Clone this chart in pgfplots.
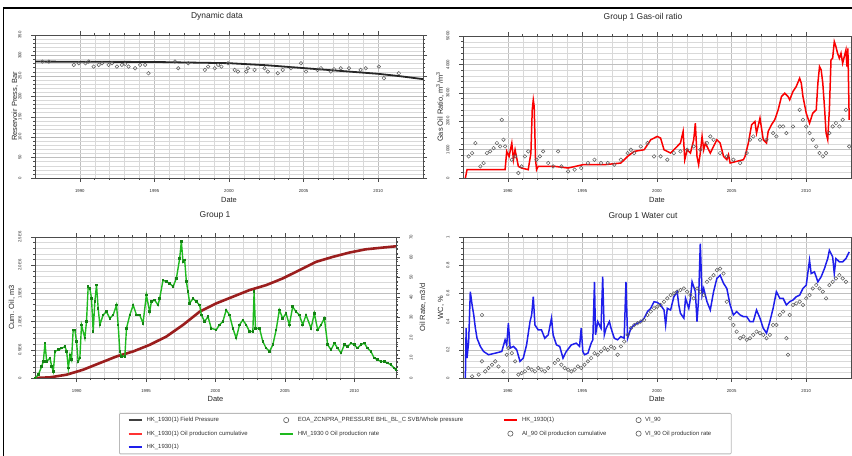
\documentclass[border=0pt]{standalone}
\usepackage{pgfplots}
\pgfplotsset{compat=1.18}
\usepackage{fontspec}
\setmainfont{Liberation Sans}
\definecolor{cumred}{RGB}{155,30,30}
\definecolor{ggreen}{RGB}{30,185,30}
\definecolor{dgreen}{RGB}{20,130,20}
\definecolor{bblue}{RGB}{30,30,235}
\definecolor{rred}{RGB}{250,0,0}
\definecolor{cgray}{RGB}{90,90,90}
\pgfplotsset{
  panel/.style={
    scale only axis, xmin=1987, xmax=2013,
    xtick={1990,1995,2000,2005,2010}, xticklabels={1990,1995,2000,2005,2010},
    minor x tick num=4, minor y tick num=4,
    grid=both,
    major grid style={gray!50, line width=0.4bp},
    minor grid style={gray!30, line width=0.35bp},
    axis line style={gray!60!black, line width=0.5bp},
    tick align=outside, major tick length=4bp, minor tick length=2bp,
    tick style={gray!60!black, line width=0.4bp},
    scaled y ticks=false,
    /pgf/number format/assume math mode=true,
    ticklabel style={font=\fontsize{4.3}{5}\selectfont, text=black!85},
    xticklabel style={inner sep=0pt, anchor=north, yshift=-7bp},
    label style={font=\fontsize{7.5}{8}\selectfont, text=black!85},
    title style={font=\fontsize{8.5}{9}\selectfont, text=black!85, anchor=center},
    xlabel=Date,
  },
  leftticks/.style={yticklabel style={inner sep=0pt, xshift=-9.5bp, rotate=90, anchor=south}},
  rightticks/.style={yticklabel style={inner sep=0pt, xshift=9.5bp, rotate=90, anchor=north}},
  gcirc/.style={only marks, mark=o, mark size=1.8bp, mark options={draw=cgray, line width=0.5bp}},
  lcirc/.style={only marks, mark=o, mark size=2.6bp, mark options={draw=cgray, line width=0.6bp}},
}
\begin{document}
\begin{tikzpicture}
\useasboundingbox (0bp,0bp) rectangle (852bp,456bp);
\draw[line width=1.6bp] (3.5bp,-3bp) -- (3.5bp,448bp) -- (870bp,448bp);

% ---------------- Panel 1: Dynamic data
\begin{axis}[panel, leftticks, at={(35bp,278bp)}, anchor=south west, width=388bp, height=143bp,
  ymin=0, ymax=350, ytick={0,50,...,350}, yticklabels={0,50,100,150,200,250,300,350},
  title={Dynamic data}, title style={at={(axis description cs:0.469,1.091)}},
  xlabel style={at={(axis description cs:0.5,-0.154)}, anchor=center},
  ylabel={Reservoir Press, Bar}, ylabel style={at={(axis description cs:-0.0515,0.5)}, anchor=center}]
\addplot[gcirc] coordinates {(1987.49,284.9)(1987.93,284.9)(1989.6,276.8)(1989.93,280.8)(1990.38,280.8)(1990.6,284.9)(1990.93,272.7)(1991.27,276.8)(1991.49,280.8)(1991.93,276.8)(1992.16,280.8)(1992.49,272.7)(1992.82,276.8)(1993.04,279.2)(1993.27,272.7)(1993.71,268.6)(1994.04,276.8)(1994.38,276.8)(1994.6,256.4)(1996.38,284.9)(1996.6,268.6)(1997.27,280.8)(1998.38,264.6)(1998.6,272.7)(1999.04,268.6)(1999.27,276.8)(1999.49,272.7)(1999.93,280.8)(2000.38,264.6)(2000.6,260.5)(2001.16,260.5)(2001.27,268.6)(2001.71,264.6)(2002.38,268.6)(2002.6,260.5)(2003.27,256.4)(2003.6,264.6)(2004.16,268.6)(2004.82,280.8)(2005.16,260.5)(2005.93,264.6)(2006.16,268.6)(2006.82,260.5)(2007.04,266.2)(2007.49,268.6)(2008.04,268.6)(2008.82,264.6)(2009.16,268.6)(2010.04,272.7)(2010.38,244.2)(2011.38,256.4)};
\addplot[black!85, line width=1.8bp] coordinates {(1987,285)(1990,284.5)(1995,284)(2000,281)(2002.5,276)(2005,269)(2007.5,262)(2010,255)(2011.5,249)(2013,242)};
\end{axis}

% ---------------- Panel 2: Gas-oil ratio
\begin{axis}[panel, leftticks, at={(463bp,278bp)}, anchor=south west, width=388bp, height=142bp,
  ymin=0, ymax=5000, ytick={0,1000,...,5000}, yticklabels={0,1000,2000,3000,4000,5000},
  title={Group 1 Gas-oil ratio}, title style={at={(axis description cs:0.464,1.092)}},
  xlabel style={at={(axis description cs:0.5,-0.155)}, anchor=center},
  ylabel={Gas Oil Ratio, m\textsuperscript{3}/m\textsuperscript{3}}, ylabel style={at={(axis description cs:-0.0593,0.5)}, anchor=center}]
\addplot[gcirc] coordinates {(1987.38,761)(1987.61,878)(1987.83,1230)(1988.16,410)(1988.38,527)(1988.6,878)(1988.82,937)(1989.05,1054)(1989.27,1230)(1989.49,1112)(1989.6,2049)(1989.71,1347)(1989.82,1112)(1990.27,644)(1990.49,761)(1990.71,176)(1990.93,410)(1991.15,761)(1991.37,937)(1991.93,644)(1992.15,761)(1992.37,937)(1992.71,527)(1993.04,410)(1993.37,937)(1993.59,410)(1994.04,234)(1994.48,293)(1994.92,351)(1995.37,527)(1995.81,644)(1996.25,527)(1996.7,527)(1997.14,468)(1997.58,644)(1998.03,878)(1998.25,995)(1998.47,878)(1998.91,1112)(1999.36,1230)(1999.8,761)(2000.24,761)(2000.69,644)(2001.13,878)(2001.57,937)(2002.02,995)(2002.46,1112)(2002.9,995)(2003.35,1230)(2003.57,1464)(2003.79,1347)(2004.23,878)(2004.68,761)(2005.12,644)(2005.57,527)(2006.01,878)(2006.23,1347)(2006.45,1464)(2006.9,1347)(2007.34,1347)(2007.78,1581)(2008.0,1464)(2008.23,1815)(2008.45,1815)(2008.67,1581)(2009.11,1815)(2009.56,2400)(2009.78,2049)(2010.0,1815)(2010.22,1581)(2010.44,1347)(2010.67,1112)(2010.89,878)(2011.11,761)(2011.33,878)(2011.55,1581)(2011.77,1815)(2011.99,1932)(2012.22,1815)(2012.44,2049)(2012.66,2400)(2012.88,1112)};
\addplot[rred, line width=1.5bp] coordinates {(1987.16,0)(1987.27,293)(1989.82,293)(1989.93,937)(1990.09,761)(1990.27,1230)(1990.38,644)(1990.49,995)(1990.71,410)(1990.93,351)(1991.37,293)(1991.55,878)(1991.64,2400)(1991.71,2752)(1991.77,2518)(1991.86,644)(1991.93,293)(1992.04,410)(1993.15,410)(1994.04,351)(1995.03,468)(1996.47,468)(1997.58,527)(1998.03,761)(1998.47,937)(1999.14,995)(1999.58,1347)(2000.02,1464)(2000.24,1405)(2000.47,995)(2000.91,878)(2001.35,1112)(2001.57,1230)(2001.75,1639)(2001.86,644)(2002.02,995)(2002.24,878)(2002.46,1347)(2002.57,1932)(2002.68,761)(2002.79,468)(2002.9,878)(2003.02,1464)(2003.13,995)(2003.24,1230)(2003.57,878)(2003.79,1112)(2004.01,1347)(2004.23,1230)(2004.46,761)(2004.68,644)(2004.79,820)(2004.9,527)(2005.34,586)(2005.79,644)(2005.9,761)(2006.12,1230)(2006.34,1874)(2006.56,1991)(2006.67,1581)(2006.9,2108)(2007.12,1347)(2007.34,1230)(2007.45,1639)(2007.67,1874)(2007.89,2049)(2008.12,2400)(2008.34,2869)(2008.56,2986)(2008.78,2869)(2008.89,2752)(2009.11,3045)(2009.33,3220)(2009.56,3513)(2009.67,3337)(2009.78,2869)(2010.0,2283)(2010.22,1932)(2010.44,2283)(2010.67,2400)(2010.78,3337)(2010.89,3923)(2011.0,3806)(2011.11,3337)(2011.22,2518)(2011.33,1581)(2011.44,1347)(2011.55,2400)(2011.66,4157)(2011.77,4216)(2011.88,4801)(2011.99,4625)(2012.1,4391)(2012.22,4216)(2012.33,4391)(2012.44,4040)(2012.55,4274)(2012.66,4508)(2012.73,3923)(2012.79,4567)(2012.88,2049)};
\end{axis}

% ---------------- Panel 3: Group 1 (left axis, cumulative)
\begin{axis}[panel, leftticks, at={(35bp,78bp)}, anchor=south west, width=361bp, height=141bp,
  ymin=0, ymax=2500000, ytick={0,500000,...,2500000}, yticklabels={0,0.5E6,1.0E6,1.5E6,2.0E6,2.5E6},
  title={Group 1}, title style={at={(axis description cs:0.4986,1.113)}},
  xlabel style={at={(axis description cs:0.5,-0.149)}, anchor=center},
  ylabel={Cum. Oil, m3}, ylabel style={at={(axis description cs:-0.0637,0.5)}, anchor=center},
  legend columns=4,
  legend style={at={(axis description cs:0.2327,-0.248)}, anchor=north west,
    draw=gray!55, line width=0.8bp, fill=white, rounded corners=1bp,
    font=\fontsize{6}{7}\selectfont, text=black!80,
    inner xsep=8bp, inner ysep=0bp, column sep=0bp, row sep=0bp,
    nodes={inner xsep=4bp, inner ysep=3.75bp, text height=4.5bp, text depth=1.5bp}},
  legend cell align=left,
  legend image code/.code={\draw[mark repeat=2,mark phase=2,#1] plot coordinates {(0bp,0bp) (6.5bp,0bp) (13bp,0bp)};}]
\addlegendimage{black!75, line width=2.2bp}
\addlegendentry{\makebox[128bp][l]{HK\_1930(1) Field Pressure}}
\addlegendimage{lcirc}
\addlegendentry{\makebox[201bp][l]{EOA\_ZCNPRA\_PRESSURE BHL\_BL\_C SVB/Whole pressure}}
\addlegendimage{rred, line width=2.2bp}
\addlegendentry{\makebox[110bp][l]{HK\_1930(1)}}
\addlegendimage{lcirc}
\addlegendentry{\makebox[74bp][l]{VI\_90}}
\addlegendimage{red!80, line width=2.2bp}
\addlegendentry{\makebox[128bp][l]{HK\_1930(1) Oil production cumulative}}
\addlegendimage{ggreen, line width=2.2bp}
\addlegendentry{\makebox[201bp][l]{HM\_1930 0 Oil production rate}}
\addlegendimage{lcirc}
\addlegendentry{\makebox[110bp][l]{AI\_90 Oil production cumulative}}
\addlegendimage{lcirc}
\addlegendentry{\makebox[74bp][l]{VI\_90 Oil production rate}}
\addlegendimage{bblue, line width=2.2bp}
\addlegendentry{\makebox[128bp][l]{HK\_1930(1)}}
\addplot[cumred, line width=2.6bp, forget plot] coordinates {(1987.0,0)(1988.08,11800)(1989.28,58800)(1990.47,147000)(1991.67,265000)(1992.87,382000)(1994.07,471000)(1995.26,588000)(1996.46,735000)(1997.66,941000)(1998.86,1176000)(2000.05,1323000)(2001.25,1441000)(2002.45,1559000)(2003.65,1647000)(2004.84,1765000)(2006.04,1912000)(2007.24,2059000)(2008.44,2147000)(2009.63,2223000)(2010.83,2282000)(2012.03,2312000)(2012.99,2335000)};
\end{axis}

% ---------------- Panel 3: Group 1 (right axis, oil rate)
\begin{axis}[scale only axis, at={(35bp,78bp)}, anchor=south west, width=361bp, height=141bp,
  xmin=1987, xmax=2013, axis x line=none, axis y line*=right,
  ymin=0, ymax=70, ytick={0,10,...,70}, yticklabels={0,10,20,30,40,50,60,70}, minor y tick num=4,
  rightticks,
  axis line style={gray!60!black, line width=0.5bp},
  tick align=outside, major tick length=4bp, minor tick length=2bp,
  tick style={gray!60!black, line width=0.4bp},
  /pgf/number format/assume math mode=true,
  ticklabel style={font=\fontsize{4.3}{5}\selectfont, text=black!85},
  label style={font=\fontsize{7.5}{8}\selectfont, text=black!85},
  ylabel={Oil Rate, m3/d}, ylabel style={at={(axis description cs:1.0748,0.5)}, anchor=center, rotate=0}]
\addplot[ggreen, line width=1.4bp, mark=square*, mark size=0.6bp, mark options={draw=dgreen, fill=dgreen}] coordinates {(1987.0,0)(1987.24,1.6)(1987.48,5.8)(1987.6,8.2)(1987.72,17.3)(1987.84,8.2)(1988.08,9.9)(1988.2,5.8)(1988.32,3.3)(1988.44,13.2)(1988.68,14.0)(1988.92,14.8)(1989.16,15.6)(1989.28,13.2)(1989.4,4.9)(1989.52,11.5)(1989.63,9.1)(1989.75,23.9)(1989.87,23.9)(1989.99,18.1)(1990.11,8.2)(1990.23,9.9)(1990.35,26.3)(1990.59,19.8)(1990.71,28.0)(1990.83,45.3)(1990.95,44.5)(1991.07,39.5)(1991.19,23.1)(1991.31,37.9)(1991.43,46.1)(1991.55,34.6)(1991.67,26.4)(1991.91,31.3)(1992.15,32.9)(1992.39,29.6)(1992.63,31.3)(1992.87,36.2)(1992.99,26.4)(1993.11,13.2)(1993.23,10.7)(1993.47,10.7)(1993.59,24.7)(1993.83,31.3)(1994.07,36.2)(1994.31,31.3)(1994.54,31.3)(1994.78,27.2)(1995.02,41.2)(1995.26,32.9)(1995.38,37.9)(1995.62,38.7)(1995.86,36.2)(1995.98,39.5)(1996.22,48.6)(1996.46,47.8)(1996.7,47.0)(1996.94,45.3)(1997.18,49.4)(1997.42,59.3)(1997.54,67.9)(1997.66,57.6)(1997.78,58.5)(1997.9,48.0)(1998.02,42.8)(1998.14,37.1)(1998.38,39.5)(1998.62,37.9)(1998.86,36.2)(1998.98,31.3)(1999.22,28.0)(1999.46,30.5)(1999.69,24.7)(2000.05,23.9)(2000.29,26.4)(2000.53,28.0)(2000.77,33.8)(2001.01,31.3)(2001.25,24.7)(2001.49,19.8)(2001.73,26.4)(2001.97,28.8)(2002.21,26.4)(2002.45,23.1)(2002.69,23.1)(2002.78,42.8)(2002.88,24.7)(2003.17,24.7)(2003.41,18.1)(2003.65,14.8)(2003.89,13.2)(2004.13,16.5)(2004.37,23.9)(2004.6,33.8)(2004.84,29.6)(2005.08,32.1)(2005.32,26.4)(2005.56,35.4)(2005.8,32.9)(2006.04,31.3)(2006.28,26.4)(2006.52,31.3)(2006.88,24.7)(2007.12,32.1)(2007.36,23.9)(2007.6,26.4)(2007.84,29.6)(2008.08,16.5)(2008.32,14.0)(2008.56,17.3)(2008.8,14.8)(2009.04,12.4)(2009.28,16.5)(2009.51,15.6)(2009.75,17.3)(2009.99,16.5)(2010.23,14.8)(2010.47,16.5)(2010.71,17.3)(2010.95,14.8)(2011.19,13.2)(2011.43,9.9)(2011.67,9.1)(2011.91,8.2)(2012.15,8.2)(2012.39,7.4)(2012.63,6.6)(2012.87,4.9)(2012.99,4.1)};
\end{axis}

% ---------------- Panel 4: Water cut
\begin{axis}[panel, leftticks, at={(463bp,78bp)}, anchor=south west, width=388bp, height=141bp,
  ymin=0, ymax=1, ytick={0,0.2,...,1}, yticklabels={0,0.2,0.4,0.6,0.8,1},
  title={Group 1 Water cut}, title style={at={(axis description cs:0.464,1.106)}},
  xlabel style={at={(axis description cs:0.5,-0.149)}, anchor=center},
  ylabel={WC, \%}, ylabel style={at={(axis description cs:-0.0567,0.5)}, anchor=center}]
\addplot[gcirc] coordinates {(1987.61,0.012)(1988.05,0.024)(1988.27,0.118)(1988.27,0.447)(1988.49,0.047)(1988.71,0.071)(1988.94,0.094)(1989.16,0.118)(1989.38,0.082)(1989.71,0.047)(1989.93,0.165)(1990.04,0.212)(1990.27,0.176)(1990.49,0.118)(1990.71,0.024)(1990.93,0.035)(1991.15,0.047)(1991.37,0.071)(1991.6,0.059)(1991.82,0.047)(1992.04,0.071)(1992.26,0.059)(1992.48,0.047)(1992.71,0.071)(1993.15,0.106)(1993.37,0.129)(1993.59,0.094)(1993.81,0.071)(1994.04,0.059)(1994.26,0.047)(1994.48,0.059)(1994.7,0.082)(1994.92,0.071)(1995.14,0.094)(1995.37,0.118)(1995.59,0.141)(1995.81,0.176)(1996.03,0.165)(1996.25,0.188)(1996.47,0.212)(1996.7,0.2)(1996.92,0.224)(1997.14,0.212)(1997.36,0.165)(1997.58,0.224)(1997.8,0.259)(1998.03,0.306)(1998.25,0.353)(1998.47,0.376)(1998.69,0.388)(1998.91,0.4)(1999.14,0.412)(1999.36,0.447)(1999.58,0.471)(1999.8,0.494)(2000.02,0.506)(2000.24,0.518)(2000.47,0.541)(2000.69,0.565)(2000.91,0.588)(2001.13,0.6)(2001.35,0.612)(2001.57,0.624)(2001.8,0.635)(2002.02,0.612)(2002.24,0.588)(2002.46,0.565)(2002.68,0.635)(2002.9,0.612)(2003.13,0.588)(2003.35,0.682)(2003.57,0.706)(2003.79,0.729)(2004.01,0.765)(2004.23,0.776)(2004.46,0.741)(2004.68,0.541)(2004.9,0.424)(2005.12,0.376)(2005.34,0.329)(2005.57,0.282)(2005.79,0.294)(2006.01,0.271)(2006.23,0.282)(2006.45,0.306)(2006.67,0.329)(2006.9,0.318)(2007.12,0.306)(2007.34,0.282)(2007.56,0.306)(2007.78,0.376)(2008.0,0.376)(2008.23,0.447)(2008.45,0.471)(2008.67,0.282)(2008.78,0.165)(2008.89,0.447)(2009.11,0.518)(2009.33,0.529)(2009.56,0.541)(2009.78,0.518)(2010.0,0.565)(2010.22,0.588)(2010.44,0.635)(2010.67,0.659)(2010.89,0.635)(2011.11,0.612)(2011.33,0.565)(2011.55,0.659)(2011.77,0.682)(2011.99,0.706)(2012.22,0.729)(2012.44,0.706)(2012.66,0.682)};
\addplot[bblue, line width=1.5bp] coordinates {(1987.16,0)(1987.21,0.353)(1987.27,0.141)(1987.38,0.259)(1987.49,0.612)(1987.61,0.518)(1987.72,0.447)(1987.83,0.353)(1987.94,0.282)(1988.16,0.224)(1988.38,0.188)(1988.71,0.165)(1989.16,0.176)(1989.6,0.188)(1989.82,0.271)(1989.93,0.235)(1990.04,0.388)(1990.16,0.212)(1990.38,0.224)(1990.6,0.2)(1990.82,0.118)(1991.04,0.141)(1991.26,0.235)(1991.49,0.4)(1991.6,0.447)(1991.71,0.576)(1991.82,0.376)(1992.04,0.341)(1992.26,0.341)(1992.48,0.282)(1992.71,0.306)(1992.93,0.424)(1993.04,0.306)(1993.26,0.235)(1993.48,0.224)(1993.7,0.141)(1993.92,0.188)(1994.26,0.235)(1994.59,0.247)(1994.81,0.224)(1994.92,0.353)(1995.03,0.188)(1995.14,0.165)(1995.37,0.176)(1995.59,0.247)(1995.7,0.271)(1995.81,0.682)(1995.88,0.306)(1996.03,0.4)(1996.14,0.376)(1996.25,0.353)(1996.36,0.718)(1996.47,0.306)(1996.59,0.353)(1996.81,0.4)(1996.92,0.353)(1997.14,0.282)(1997.36,0.271)(1997.58,0.294)(1997.8,0.282)(1997.92,0.682)(1998.03,0.282)(1998.25,0.353)(1998.47,0.376)(1998.69,0.388)(1998.91,0.4)(1999.14,0.424)(1999.36,0.471)(1999.58,0.494)(1999.8,0.541)(2000.02,0.536)(2000.24,0.518)(2000.47,0.482)(2000.58,0.376)(2000.69,0.494)(2000.91,0.482)(2001.13,0.576)(2001.35,0.612)(2001.46,0.518)(2001.57,0.459)(2001.8,0.424)(2001.91,0.565)(2002.13,0.494)(2002.24,0.565)(2002.35,0.682)(2002.57,0.612)(2002.68,0.4)(2002.79,0.565)(2002.9,0.953)(2003.02,0.588)(2003.13,0.635)(2003.35,0.541)(2003.57,0.482)(2003.79,0.612)(2004.01,0.706)(2004.23,0.729)(2004.46,0.671)(2004.68,0.635)(2004.9,0.518)(2005.12,0.447)(2005.34,0.471)(2005.57,0.447)(2005.79,0.435)(2006.01,0.435)(2006.23,0.4)(2006.45,0.4)(2006.67,0.482)(2006.9,0.424)(2007.12,0.353)(2007.34,0.318)(2007.56,0.4)(2007.78,0.494)(2008.0,0.612)(2008.23,0.565)(2008.45,0.565)(2008.67,0.518)(2008.89,0.541)(2009.11,0.553)(2009.33,0.576)(2009.56,0.588)(2009.78,0.635)(2010.0,0.659)(2010.22,0.835)(2010.33,0.741)(2010.55,0.753)(2010.78,0.682)(2011.0,0.718)(2011.22,0.776)(2011.44,0.847)(2011.55,0.906)(2011.77,0.859)(2011.88,0.741)(2011.99,0.847)(2012.22,0.824)(2012.44,0.824)(2012.66,0.847)(2012.88,0.894)};
\end{axis}
\end{tikzpicture}
\end{document}
